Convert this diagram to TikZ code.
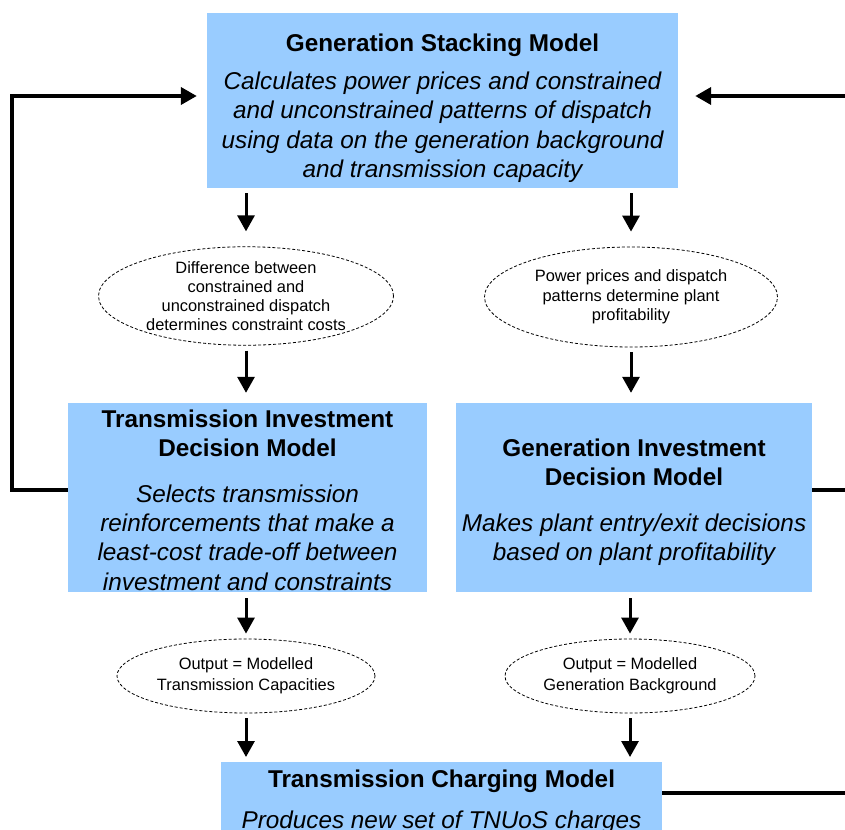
\documentclass[tikz,border=0pt]{standalone}
\usepackage{fontspec}
\setmainfont{Liberation Sans}
\usetikzlibrary{arrows.meta,shapes.geometric}
\definecolor{boxblue}{HTML}{99CCFF}
\begin{document}
\begin{tikzpicture}[x=1pt,y=-1pt,
  modelbox/.style={fill=boxblue, inner sep=0pt, align=center, font=\fontsize{24.3}{29.3}\selectfont},
  note/.style={ellipse, draw, dash pattern=on 3pt off 2pt, line width=0.8pt, inner sep=0pt, align=center},
  tip/.style={-{Triangle[length=16pt,width=17pt]}},
  flow/.style={line width=3pt, tip},
  fb/.style={line width=3.8pt},
]
\useasboundingbox (0,0) rectangle (845,829);
\newcommand{\hd}[1]{{\bfseries\fontsize{24.3}{29.3}\selectfont #1}}
\newcommand{\bd}{\itshape}

\node[modelbox, minimum width=471pt, minimum height=175pt] (gsm) at (442.5,100.5)
  {\rule{0pt}{33pt}\hd{Generation Stacking Model}\\[9pt]
   \bd Calculates power prices and constrained\\
   \bd and unconstrained patterns of dispatch\\
   \bd using data on the generation background\\
   \bd and transmission capacity};

\node[modelbox, minimum width=359pt, minimum height=189pt] (tidm) at (247.5,497.5)
  {\rule{0pt}{23pt}\hd{Transmission Investment}\\
   \hd{Decision Model}\\[16pt]
   \bd Selects transmission\\
   \bd reinforcements that make a\\
   \bd least-cost trade-off between\\
   \bd investment and constraints};

\node[modelbox, minimum width=356pt, minimum height=189pt] (gidm) at (634,497.5)
  {\rule{0pt}{27pt}\hd{Generation Investment}\\
   \hd{Decision Model}\\[17pt]
   \bd Makes plant entry/exit decisions\\
   \bd based on plant profitability};

\node[modelbox, minimum width=441pt, minimum height=110pt, anchor=north, inner ysep=0pt] (tcm) at (441.5,762)
  {\hd{Transmission Charging Model}\\[12pt]
   \bd Produces new set of TNUoS charges\\ \rule{0pt}{30pt}};

\node[note, minimum width=295pt, minimum height=98pt, font=\fontsize{16.4}{19.2}\selectfont] (n1) at (246,296)
  {Difference between\\constrained and\\unconstrained dispatch\\determines constraint costs};
\node[note, minimum width=293pt, minimum height=100pt, font=\fontsize{16.4}{19.5}\selectfont] (n2) at (631,297)
  {Power prices and dispatch\\patterns determine plant\\profitability};
\node[note, minimum width=258pt, minimum height=74pt, font=\fontsize{16.4}{21}\selectfont] (n3) at (246,676)
  {Output = Modelled\\Transmission Capacities};
\node[note, minimum width=250pt, minimum height=74pt, font=\fontsize{16.4}{21}\selectfont] (n4) at (630,676)
  {Output = Modelled\\Generation Background};

% downward flow
\draw[flow, shorten <=5pt, shorten >=15pt] (gsm.south -| n1) -- (n1.north);
\draw[flow, shorten <=5pt, shorten >=15pt] (gsm.south -| n2) -- (n2.north);
\draw[flow, shorten <=5pt, shorten >=10pt] (n1.south) -- (n1.south |- tidm.north);
\draw[flow, shorten <=5pt, shorten >=10pt] (n2.south) -- (n2.south |- gidm.north);
\draw[flow, shorten <=6pt, shorten >=5pt] (tidm.south -| n3) -- (n3.north);
\draw[flow, shorten <=6pt, shorten >=5pt] (gidm.south -| n4) -- (n4.north);
\draw[flow, shorten <=5pt, shorten >=5pt] (n3.south) -- (n3.south |- tcm.north);
\draw[flow, shorten <=5pt, shorten >=5pt] (n4.south) -- (n4.south |- tcm.north);

% feedback loops
\coordinate (lc) at (12,96);
\coordinate (rc) at (875,96);
\draw[fb, tip, shorten >=10pt] ([yshift=7.5pt]tidm.west) -| (lc) -- ([yshift=4.5pt]gsm.west);
\draw[fb] ([yshift=7.5pt]gidm.east) -- ([yshift=7.5pt]gidm.east -| rc);
\draw[fb, tip, shorten >=17pt] ([yshift=-31pt]tcm.north east) -| (rc) -- ([yshift=4.5pt]gsm.east);
\end{tikzpicture}
\end{document}
